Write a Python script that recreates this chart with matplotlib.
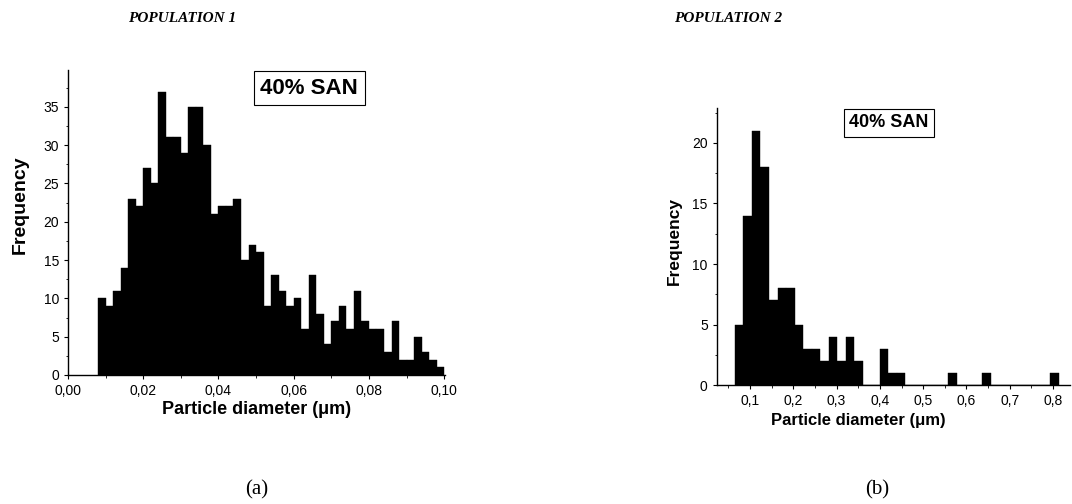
import numpy as np
import matplotlib
matplotlib.use("Agg")
import matplotlib.pyplot as plt
from matplotlib.ticker import MultipleLocator, FuncFormatter

# population 1: bin start, bin width, counts per bin
pop1_start = 0.008
pop1_width = 0.002
pop1_counts = [10, 9, 11, 14, 23, 22, 27, 25, 37, 31, 31, 29, 35, 35, 30, 21,
               22, 22, 23, 15, 17, 16, 9, 13, 11, 9, 10, 6, 13, 8, 4, 7,
               9, 6, 11, 7, 6, 6, 3, 7, 2, 2, 5, 3, 2, 1]

# population 2
pop2_start = 0.065
pop2_width = 0.0197
pop2_counts = [5, 14, 21, 18, 7, 8, 8, 5, 3, 3, 2, 4, 2, 4, 2, 0,
               0, 3, 1, 1, 0, 0, 0, 0, 0, 1, 0, 0, 0, 1, 0, 0,
               0, 0, 0, 0, 0, 1]

titles = ["POPULATION 1", "POPULATION 2"]
panel_tags = ["(a)", "(b)"]
box_text = "40% SAN"

plt.rcParams['font.family'] = ['Liberation Sans', 'DejaVu Sans']

fig = plt.figure(figsize=(10.72, 5.04), dpi=100)


def comma_fmt(decimals):
    return FuncFormatter(lambda v, p: f"{v:.{decimals}f}".replace(".", ","))


def style_axes(ax):
    for s in ["top", "right"]:
        ax.spines[s].set_visible(False)
    ax.spines["left"].set_linewidth(1.0)
    ax.spines["bottom"].set_linewidth(1.0)
    ax.tick_params(direction="out", length=3, width=0.8, labelsize=10)
    ax.tick_params(which="minor", direction="out", length=1.8, width=0.6)


# left panel
ax1 = fig.add_axes([0.0634, 0.256, 0.352, 0.605])
edges1 = pop1_start + pop1_width * np.arange(len(pop1_counts))
ax1.bar(edges1, pop1_counts, width=pop1_width, align="edge", color="black",
        edgecolor="black", linewidth=0.3)
ax1.set_xlim(0, 0.1003)
ax1.set_ylim(0, 39.8)
ax1.xaxis.set_major_locator(MultipleLocator(0.02))
ax1.xaxis.set_minor_locator(MultipleLocator(0.01))
ax1.yaxis.set_major_locator(MultipleLocator(5))
ax1.yaxis.set_minor_locator(MultipleLocator(2.5))
ax1.xaxis.set_major_formatter(comma_fmt(2))
style_axes(ax1)
ax1.set_ylabel("Frequency", fontsize=14, fontweight="bold")
ax1.yaxis.set_label_coords(-0.105, 0.557)
ax1.set_xlabel("Particle diameter (\u03bcm)", fontsize=13, fontweight="bold", labelpad=2)
ax1.text(0.639, 0.941, box_text, transform=ax1.transAxes, fontsize=16,
         fontweight="bold", ha="center", va="center",
         bbox=dict(boxstyle="square,pad=0.3", fc="white", ec="black", lw=0.8))

# right panel
ax2 = fig.add_axes([0.6686, 0.236, 0.3294, 0.55])
edges2 = pop2_start + pop2_width * np.arange(len(pop2_counts))
ax2.bar(edges2, pop2_counts, width=pop2_width, align="edge", color="black",
        edgecolor="black", linewidth=0.3)
ax2.set_xlim(0.023, 0.839)
ax2.set_ylim(0, 22.9)
ax2.xaxis.set_major_locator(MultipleLocator(0.1))
ax2.xaxis.set_minor_locator(MultipleLocator(0.05))
ax2.yaxis.set_major_locator(MultipleLocator(5))
ax2.yaxis.set_minor_locator(MultipleLocator(2.5))
ax2.xaxis.set_major_formatter(comma_fmt(1))
style_axes(ax2)
ax2.set_ylabel("Frequency", fontsize=12.5, fontweight="bold")
ax2.yaxis.set_label_coords(-0.1, 0.52)
ax2.set_xlabel("Particle diameter (\u03bcm)", fontsize=12, fontweight="bold")
ax2.xaxis.set_label_coords(0.4, -0.1)
ax2.text(0.488, 0.946, box_text, transform=ax2.transAxes, fontsize=13,
         fontweight="bold", ha="center", va="center",
         bbox=dict(boxstyle="square,pad=0.3", fc="white", ec="black", lw=0.8))

# titles and panel tags
serif = ['Liberation Serif', 'DejaVu Serif']
fig.text(182 / 1072, 1 - 18 / 504, titles[0], family=serif, fontsize=11,
         fontweight="bold", fontstyle="italic", ha="center", va="center")
fig.text(728 / 1072, 1 - 18 / 504, titles[1], family=serif, fontsize=11,
         fontweight="bold", fontstyle="italic", ha="center", va="center")
fig.text(257 / 1072, 1 - 490 / 504, panel_tags[0], family=serif, fontsize=15,
         ha="center", va="center")
fig.text(877 / 1072, 1 - 490 / 504, panel_tags[1], family=serif, fontsize=15,
         ha="center", va="center")

fig.savefig("out.png", dpi=100)
